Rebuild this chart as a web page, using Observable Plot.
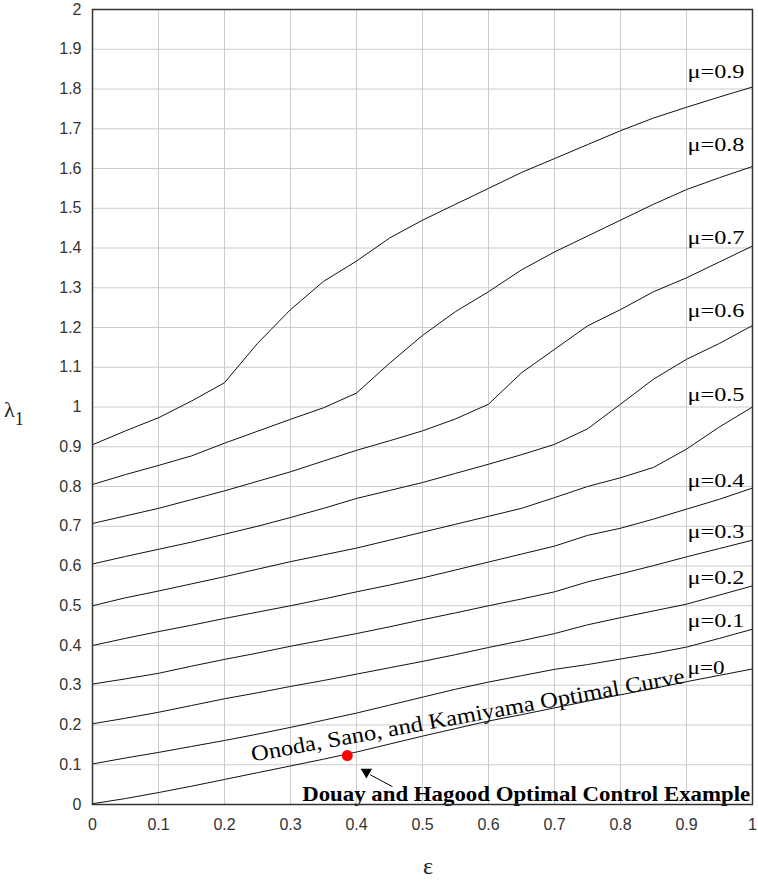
<!DOCTYPE html>
<html>
<head>
<meta charset="utf-8">
<script src="https://cdn.jsdelivr.net/npm/d3@7"></script>
<script src="https://cdn.jsdelivr.net/npm/@observablehq/plot@0.6"></script>
<style>
  html, body { margin: 0; padding: 0; background: #fff; }
  #chart svg { display: block; }
</style>
</head>
<body>
<div id="chart"></div>
<script>
// ---- data ----
const eps = [0, 0.05, 0.1, 0.15, 0.2, 0.25, 0.3, 0.35, 0.4, 0.45, 0.5, 0.55, 0.6, 0.65, 0.7, 0.75, 0.8, 0.85, 0.9, 0.95, 1];

const mu00 = [0.002, 0.015, 0.03, 0.046, 0.063, 0.08, 0.097, 0.114, 0.132, 0.152, 0.172, 0.191, 0.21, 0.226, 0.243, 0.26, 0.276, 0.292, 0.309, 0.325, 0.341];
const mu01 = [0.102, 0.117, 0.131, 0.146, 0.161, 0.177, 0.194, 0.212, 0.23, 0.25, 0.27, 0.29, 0.308, 0.324, 0.34, 0.352, 0.366, 0.38, 0.396, 0.418, 0.441];
const mu02 = [0.203, 0.217, 0.232, 0.249, 0.266, 0.281, 0.297, 0.312, 0.328, 0.344, 0.36, 0.377, 0.395, 0.412, 0.43, 0.452, 0.47, 0.487, 0.504, 0.527, 0.55];
const mu03 = [0.303, 0.316, 0.33, 0.348, 0.365, 0.381, 0.398, 0.414, 0.43, 0.447, 0.465, 0.482, 0.5, 0.517, 0.535, 0.56, 0.58, 0.601, 0.623, 0.644, 0.665];
const mu04 = [0.4, 0.418, 0.435, 0.451, 0.468, 0.484, 0.5, 0.517, 0.535, 0.552, 0.57, 0.59, 0.61, 0.63, 0.65, 0.677, 0.695, 0.718, 0.743, 0.768, 0.796];
const mu05 = [0.5, 0.52, 0.537, 0.555, 0.573, 0.592, 0.611, 0.628, 0.645, 0.665, 0.685, 0.705, 0.725, 0.745, 0.772, 0.8, 0.822, 0.848, 0.894, 0.95, 1.0];
const mu06 = [0.605, 0.624, 0.642, 0.66, 0.68, 0.7, 0.722, 0.745, 0.77, 0.79, 0.81, 0.833, 0.856, 0.88, 0.906, 0.945, 1.007, 1.07, 1.12, 1.16, 1.205];
const mu07 = [0.707, 0.726, 0.745, 0.767, 0.789, 0.813, 0.837, 0.864, 0.891, 0.915, 0.94, 0.97, 1.007, 1.086, 1.145, 1.204, 1.245, 1.29, 1.325, 1.365, 1.405];
const mu08 = [0.805, 0.83, 0.853, 0.877, 0.909, 0.939, 0.969, 0.998, 1.035, 1.11, 1.18, 1.24, 1.29, 1.345, 1.39, 1.43, 1.47, 1.51, 1.547, 1.577, 1.605];
const mu09 = [0.905, 0.94, 0.973, 1.015, 1.061, 1.16, 1.245, 1.316, 1.367, 1.425, 1.47, 1.51, 1.55, 1.59, 1.625, 1.66, 1.695, 1.727, 1.754, 1.78, 1.805];

const muLabels = ["μ=0", "μ=0.1", "μ=0.2", "μ=0.3", "μ=0.4", "μ=0.5", "μ=0.6", "μ=0.7", "μ=0.8", "μ=0.9"];
const muSeries = [mu00, mu01, mu02, mu03, mu04, mu05, mu06, mu07, mu08, mu09];
// label anchor positions (ε, λ1) for the curve names
const labelEps = 0.9015;
const labelLambda = [0.342, 0.46, 0.569, 0.686, 0.813, 1.03, 1.24, 1.425, 1.659, 1.842];

const xTicks = [0, 0.1, 0.2, 0.3, 0.4, 0.5, 0.6, 0.7, 0.8, 0.9, 1];
const xTickLabels = ["0", "0.1", "0.2", "0.3", "0.4", "0.5", "0.6", "0.7", "0.8", "0.9", "1"];
const yTicks = [0, 0.1, 0.2, 0.3, 0.4, 0.5, 0.6, 0.7, 0.8, 0.9, 1, 1.1, 1.2, 1.3, 1.4, 1.5, 1.6, 1.7, 1.8, 1.9, 2];
const yTickLabels = ["0", "0.1", "0.2", "0.3", "0.4", "0.5", "0.6", "0.7", "0.8", "0.9", "1", "1.1", "1.2", "1.3", "1.4", "1.5", "1.6", "1.7", "1.8", "1.9", "2"];

// annotations
const optimalCurveText = "Onoda, Sano, and Kamiyama Optimal Curve";
const optimalCurveAt = [0.2424, 0.108];
const exampleText = "Douay and Hagood Optimal Control Example";
const exampleTextAt = [0.3177, 0.0088];
const exampleDot = [0.386, 0.123];
const markerAt = [0.415, 0.0817];
const arrowEps = [0.421, 0.454];
const arrowLambda = [0.0746, 0.0452];

// ---- build tables ----
const lines = muSeries.flatMap((vals, k) => eps.map((e, i) => ({eps: e, lam: vals[i], mu: muLabels[k]})));
const labels = muLabels.map((m, k) => ({eps: labelEps, lam: labelLambda[k], text: m}));
const arrow = arrowEps.map((e, i) => ({eps: e, lam: arrowLambda[i]}));

const serif = "'Liberation Serif', 'Times New Roman', serif";
const sans = "'Liberation Sans', Arial, sans-serif";

const downTriangle = {
  draw(ctx, size) {
    const s = Math.sqrt(size * 4 / Math.sqrt(3));
    const h = s * Math.sqrt(3) / 2;
    ctx.moveTo(-s / 2, -h / 3);
    ctx.lineTo(s / 2, -h / 3);
    ctx.lineTo(0, 2 * h / 3);
    ctx.closePath();
  }
};

const W = 758, H = 882;
const chart = Plot.plot({
  width: W,
  height: H,
  marginLeft: 92,
  marginRight: 6,
  marginTop: 9,
  marginBottom: 78,
  style: {fontFamily: sans, background: "#fff"},
  x: {domain: [0, 1], label: null, axis: null},
  y: {domain: [0, 2], label: null, axis: null},
  marks: [
    Plot.gridX(xTicks, {stroke: "#cccccc", strokeOpacity: 1, strokeWidth: 1}),
    Plot.gridY(yTicks, {stroke: "#cccccc", strokeOpacity: 1, strokeWidth: 1}),
    // tick labels drawn as text marks positioned by the scales
    Plot.text(xTicks, {x: (d) => d, frameAnchor: "bottom", text: (d, i) => xTickLabels[i],
      dy: 20, lineAnchor: "middle", textAnchor: "middle", fontSize: 16, fontFamily: sans, fill: "#333"}),
    Plot.text(yTicks, {y: (d) => d, frameAnchor: "left", text: (d, i) => yTickLabels[i],
      dx: -11, lineAnchor: "middle", textAnchor: "end", fontSize: 16, fontFamily: sans, fill: "#333"}),
    Plot.line(lines, {x: "eps", y: "lam", z: "mu", stroke: "#111", strokeWidth: 1}),
    Plot.text(labels, {x: "eps", y: "lam", text: "text", textAnchor: "start", lineAnchor: "middle",
      fontFamily: serif, fontSize: 18, fill: "#000"}),
    Plot.text([optimalCurveText], {x: () => optimalCurveAt[0], y: () => optimalCurveAt[1], text: (d) => d,
      rotate: -10.3, textAnchor: "start", lineAnchor: "bottom", fontFamily: serif, fontSize: 22, fill: "#000"}),
    Plot.text([exampleText], {x: () => exampleTextAt[0], y: () => exampleTextAt[1], text: (d) => d,
      textAnchor: "start", lineAnchor: "bottom", fontFamily: serif, fontSize: 22, fontWeight: "bold", fill: "#000"}),
    Plot.line(arrow, {x: "eps", y: "lam", stroke: "#000", strokeWidth: 1}),
    Plot.dot([markerAt], {x: (d) => d[0], y: (d) => d[1], symbol: downTriangle, r: 4.2, fill: "#000", stroke: "none"}),
    Plot.dot([exampleDot], {x: (d) => d[0], y: (d) => d[1], r: 5.5, fill: "#ff0000", stroke: "none"}),
    Plot.frame({stroke: "#333", strokeWidth: 1.5})
  ]
});

document.getElementById("chart").appendChild(chart);

// stretch the serif annotations to the reference widths
chart.querySelectorAll("text").forEach((t) => {
  const s = t.textContent;
  let len = null;
  if (s === "μ=0") len = 37;
  else if (s.startsWith("μ=")) len = 57;
  else if (s === optimalCurveText) len = 440;
  else if (s === exampleText) len = 448;
  if (len) {
    t.setAttribute("textLength", len);
    t.setAttribute("lengthAdjust", "spacingAndGlyphs");
  }
});

// axis titles
const svg = d3.select(chart);
const lam = svg.append("text")
  .attr("x", 4).attr("y", 417)
  .attr("text-anchor", "start")
  .attr("font-family", serif).attr("font-size", 22).attr("fill", "#222");
lam.append("tspan").text("λ");
lam.append("tspan").attr("font-size", 18).attr("dy", 8).text("1");

svg.append("text")
  .attr("x", 428).attr("y", 874)
  .attr("text-anchor", "middle")
  .attr("font-family", serif).attr("font-size", 24).attr("fill", "#222")
  .text("ε");
</script>
</body>
</html>
